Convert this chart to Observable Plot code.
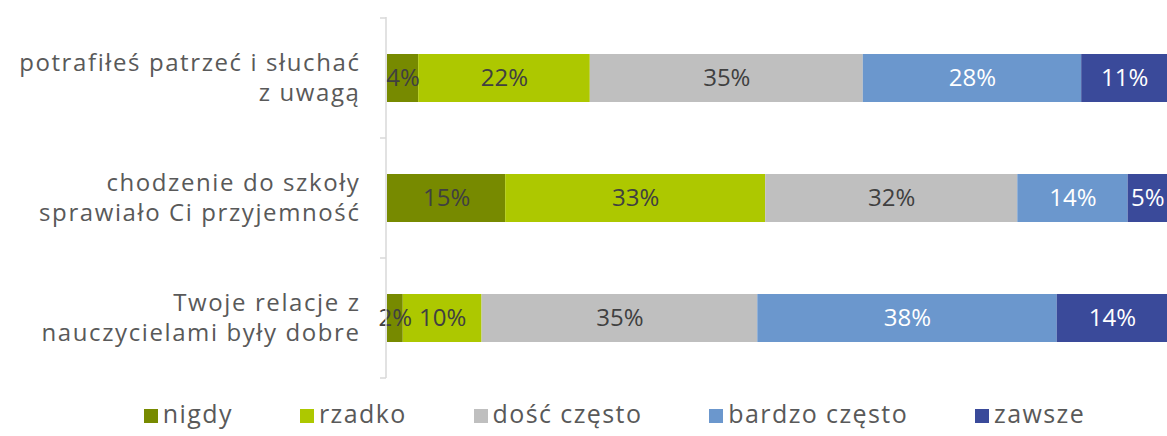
<!DOCTYPE html>
<html>
<head>
<meta charset="utf-8">
<script src="https://cdn.jsdelivr.net/npm/d3@7"></script>
<script src="https://cdn.jsdelivr.net/npm/@observablehq/plot@0.6"></script>
<style>
  html, body { margin: 0; padding: 0; background: #fff; }
  body { width: 1167px; height: 436px; overflow: hidden; font-family: "Open Sans", sans-serif; }
  #legend { display: flex; justify-content: center; gap: 67px; padding-left: 62px; box-sizing: border-box; width: 1167px; margin-top: 2px; }
  .item { display: flex; align-items: center; font-size: 25px; color: #595959; line-height: 30px; letter-spacing: 1.4px; }
  .sw { width: 14px; height: 14px; margin-right: 5px; margin-top: 6px; }
</style>
</head>
<body>
<div id="chart"></div>
<div id="legend"></div>
<script>
const categories = [
  "potrafiłeś patrzeć i słuchać\nz uwagą",
  "chodzenie do szkoły\nsprawiało Ci przyjemność",
  "Twoje relacje z\nnauczycielami były dobre"
];
const seriesNames = ["nigdy", "rzadko", "dość często", "bardzo często", "zawsze"];
const seriesColors = ["#778a00", "#adc800", "#bfbfbf", "#6b97cd", "#3a4a9a"];
const labelColors = ["#404040", "#404040", "#404040", "#ffffff", "#ffffff"];
const values = [
  [4, 22, 35, 28, 11],
  [15, 33, 32, 14, 5],
  [2, 10, 35, 38, 14]
];

const rows = [];
categories.forEach((c, i) => {
  seriesNames.forEach((s, j) => {
    rows.push({category: c, series: s, value: values[i][j], label: values[i][j] + "%", labelColor: labelColors[j]});
  });
});

const stackOpts = {x: "value", y: "category", z: "series", order: null, offset: "normalize"};

const axisMark = (index, scales, values, dims) => {
  const y = scales.y;
  const step = y.step ? y.step() : (dims.height - dims.marginTop - dims.marginBottom) / categories.length;
  const bw = y.bandwidth ? y.bandwidth() : 0;
  const x0 = dims.marginLeft - 1;
  const top = dims.marginTop, bottom = dims.height - dims.marginBottom;
  const g = d3.create("svg:g").attr("stroke", "#d9d9d9").attr("stroke-width", 1.5).attr("fill", "none");
  g.append("line").attr("x1", x0).attr("x2", x0).attr("y1", top).attr("y2", bottom);
  const ys = categories.map(c => y(c) - (step - bw) / 2);
  ys.push(bottom);
  ys.forEach(v => g.append("line").attr("x1", x0 - 6).attr("x2", x0).attr("y1", v).attr("y2", v));
  return g.node();
};

const chart = Plot.plot({
  width: 1167,
  height: 396,
  marginLeft: 387,
  marginRight: 0,
  marginTop: 17,
  marginBottom: 18,
  style: {fontFamily: "Open Sans, sans-serif", background: "#fff"},
  x: {domain: [0, 1], axis: null},
  y: {domain: categories, paddingInner: 0.6, paddingOuter: 0.3, axis: null},
  color: {domain: seriesNames, range: seriesColors},
  marks: [
    Plot.barX(rows, Plot.stackX({...stackOpts, fill: "series"})),
    Plot.text(rows, Plot.stackX({...stackOpts, text: "label", fill: "labelColor", fontSize: 24})),
    Plot.text(categories, {y: d => d, text: d => d, frameAnchor: "left", textAnchor: "end", dx: -27, dy: -2, fontSize: 24, fill: "#595959", lineHeight: 1.25}),
    axisMark
  ]
});
const catLines = new Set(categories.flatMap(c => c.split("\n")));
chart.querySelectorAll("text").forEach(t => {
  const spans = Array.from(t.querySelectorAll("tspan"));
  const lines = spans.length ? spans.map(s => s.textContent) : [t.textContent];
  if (lines.every(l => catLines.has(l))) t.style.letterSpacing = "1.6px";
});
document.getElementById("chart").appendChild(chart);

const legend = document.getElementById("legend");
seriesNames.forEach((s, j) => {
  const it = document.createElement("div");
  it.className = "item";
  const sw = document.createElement("span");
  sw.className = "sw";
  sw.style.background = seriesColors[j];
  it.appendChild(sw);
  it.appendChild(document.createTextNode(s));
  legend.appendChild(it);
});
</script>
</body>
</html>
